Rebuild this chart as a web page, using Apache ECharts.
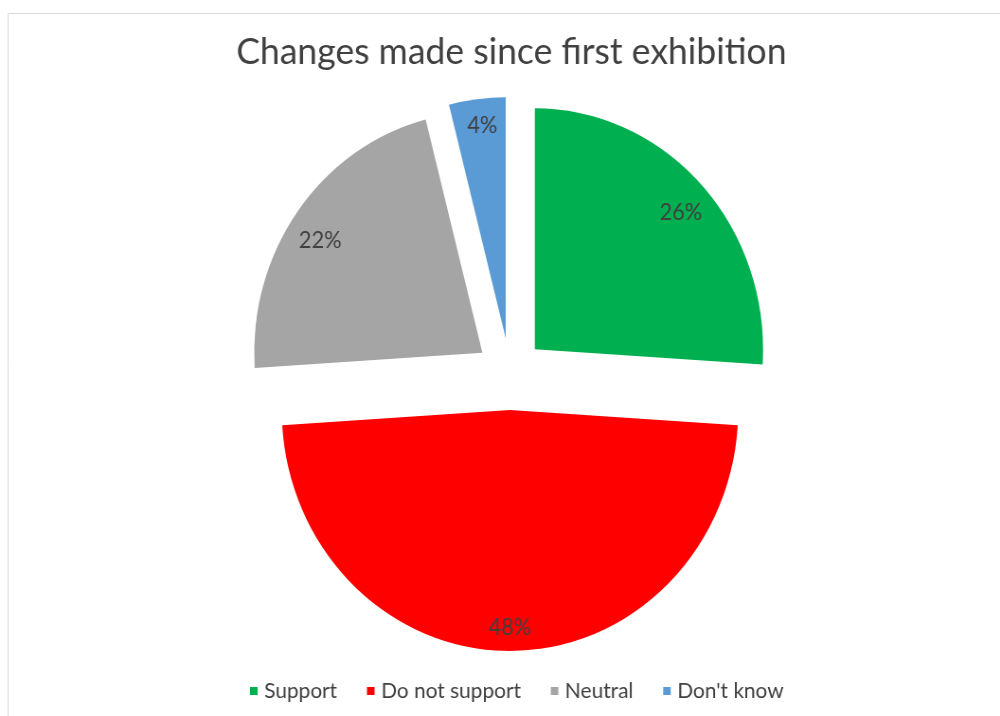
<!DOCTYPE html>
<html>
<head>
<meta charset="utf-8">
<script src="https://cdn.jsdelivr.net/npm/echarts@6/dist/echarts.min.js"></script>
<style>
  html, body { margin: 0; padding: 0; background: #ffffff; overflow: hidden; }
  #wrap { width: 1000px; height: 716px; position: relative; overflow: hidden; }
  /* the pie is drawn slightly narrower than tall */
  #chart { position: absolute; left: 0; top: 0; width: 1056px; height: 716px;
           transform: scaleX(0.947); transform-origin: 0 0; }
</style>
</head>
<body>
<div id="wrap"><div id="chart"></div></div>
<script>
const titleText = 'Changes made since first exhibition';
const categories = ['Support', 'Do not support', 'Neutral', "Don't know"];
const shares = [26, 48, 22, 4];
const colors = ['#00B050', '#FF0000', '#A5A5A5', '#5B9BD5'];

const FONT = 'Lato';
const center = [538.5, 374];
const R = 241;
const explode = 36;
// best-fit style nudges of the percentage labels, [dx, dy] in px
const labelNudge = [[-1, 9], [0, 5], [1, 13], [2, -1.5]];

const sliceData = categories.map((name, i) => ({
  name, value: shares[i], selected: true,
  itemStyle: { color: colors[i] },
  select: { itemStyle: { color: colors[i] } }
}));
const labelData = categories.map((name, i) => ({
  name, value: shares[i], selected: true
}));

const chart = echarts.init(document.getElementById('chart'), null, { renderer: 'canvas' });
chart.setOption({
  animation: false,
  graphic: [{
    type: 'rect', silent: true,
    shape: { x: 8.5, y: 13.5, width: 1200, height: 800 },
    style: { fill: 'none', stroke: '#d9d9d9', lineWidth: 1 }
  }],
  title: {
    text: titleText, left: 535, top: 28, textAlign: 'center',
    textStyle: { fontFamily: FONT, fontSize: 37.5, fontWeight: 'normal', color: '#404040' }
  },
  legend: {
    data: categories, top: 680, left: 264, padding: 0,
    icon: 'rect', itemWidth: 8, itemHeight: 8, itemGap: 31.5,
    selectedMode: false,
    textStyle: { fontFamily: FONT, fontSize: 22, color: '#404040', padding: [0, 0, 0, 2] }
  },
  series: [{
    type: 'pie', center, radius: [0, R], startAngle: 90, clockwise: true,
    selectedMode: 'multiple', selectedOffset: explode,
    label: { show: false }, labelLine: { show: false },
    emphasis: { disabled: true },
    data: sliceData
  }, {
    type: 'pie', center, radius: [179, R], startAngle: 90, clockwise: true,
    selectedMode: 'multiple', selectedOffset: explode, silent: true,
    itemStyle: { color: 'rgba(0,0,0,0)' },
    select: { itemStyle: { color: 'rgba(0,0,0,0)' } },
    emphasis: { disabled: true },
    label: { show: true, position: 'inside', formatter: '{c}%',
             fontFamily: FONT, fontSize: 23, color: '#404040' },
    labelLine: { show: false },
    labelLayout: p => ({
      dx: labelNudge[p.dataIndex][0] * 1.056,
      dy: labelNudge[p.dataIndex][1]
    }),
    legendHoverLink: false,
    data: labelData
  }]
});
</script>
</body>
</html>
